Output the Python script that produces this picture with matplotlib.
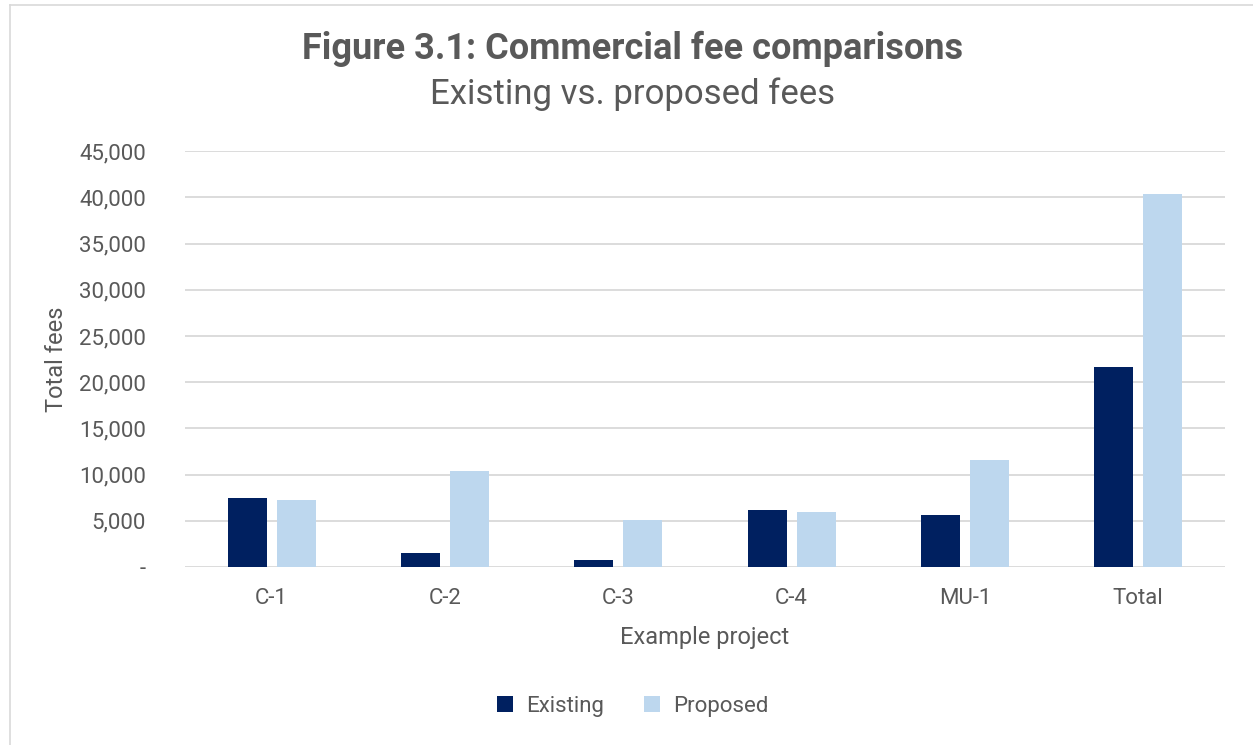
import numpy as np
import matplotlib.pyplot as plt
from matplotlib.ticker import FuncFormatter
from matplotlib.lines import Line2D

projects = ["C-1", "C-2", "C-3", "C-4", "MU-1", "Total"]
existing = [7500, 1500, 750, 6200, 5600, 21700]
proposed = [7200, 10400, 5100, 6000, 11600, 40400]

text_col = "#595959"
plt.rcParams['font.family'] = ['Roboto', 'DejaVu Sans']

fig = plt.figure(figsize=(12.53, 7.45), dpi=100)
# light frame on top and left edge, as in the source screenshot
fig.lines.append(Line2D([0.008, 0.008], [0.0, 0.993], transform=fig.transFigure,
                        color="#D9D9D9", lw=1.2))
fig.lines.append(Line2D([0.008, 1.0], [0.993, 0.993], transform=fig.transFigure,
                        color="#D9D9D9", lw=1.2))
ax = fig.add_axes([0.1476, 0.2389, 0.830, 0.5581])

x = np.arange(len(projects))
w = 0.225
off = 0.1415
ax.bar(x - off, existing, w, color="#002060", label="Existing", zorder=3)
ax.bar(x + off, proposed, w, color="#BDD7EE", label="Proposed", zorder=3)

ax.set_xlim(-0.5, len(projects) - 0.5)
ax.set_ylim(0, 45000)
ax.set_yticks(np.arange(0, 45001, 5000))
ax.yaxis.set_major_formatter(FuncFormatter(lambda v, p: "-" if v == 0 else f"{int(v):,}"))
ax.set_xticks(x)
ax.set_xticklabels(projects)
ax.grid(axis="y", color="#D9D9D9", lw=1.3, zorder=0)
for s in ax.spines.values():
    s.set_visible(False)
ax.tick_params(length=0, labelsize=16, colors=text_col)
ax.tick_params(axis="x", pad=15)
ax.tick_params(axis="y", pad=28)

ax.set_xlabel("Example project", fontsize=17, color=text_col, labelpad=12)
ax.set_ylabel("Total fees", fontsize=17, color=text_col, labelpad=8)

fig.text(0.505, 0.935, "Figure 3.1: Commercial fee comparisons", ha="center", va="center",
         fontsize=26, fontweight="bold", color=text_col)
fig.text(0.505, 0.874, "Existing vs. proposed fees", ha="center", va="center",
         fontsize=25, color=text_col)

fig.legend(loc="center", bbox_to_anchor=(0.505, 0.052), ncol=2, frameon=False,
           fontsize=16, labelcolor=text_col, handlelength=0.7, handleheight=0.7,
           handletextpad=0.6, columnspacing=1.8)

fig.savefig("out.png", dpi=100)
